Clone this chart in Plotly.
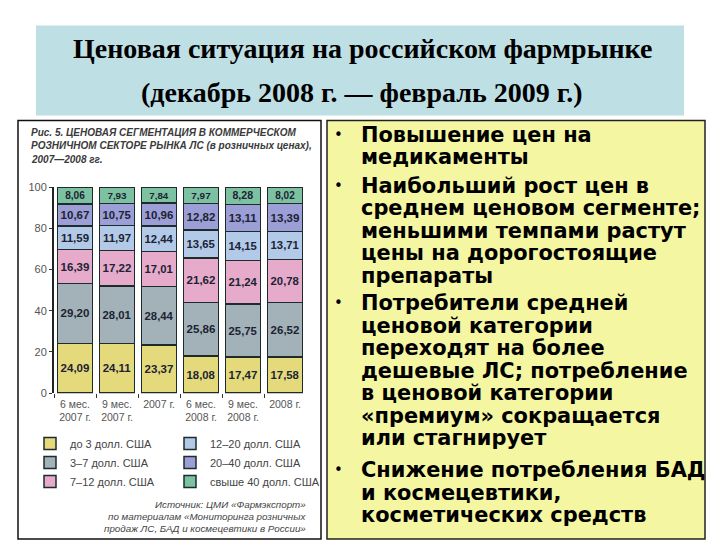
import plotly.graph_objects as go

# ---------------- data ----------------
categories = ["6 мес.<br>2007 г.", "9 мес.<br>2007 г.", "2007 г.",
              "6 мес.<br>2008 г.", "9 мес.<br>2008 г.", "2008 г."]
seg_names = ["до 3 долл. США", "3–7 долл. США", "7–12 долл. США",
             "12–20 долл. США", "20–40 долл. США", "свыше 40 долл. США"]
upto3 = [24.09, 24.11, 23.37, 18.08, 17.47, 17.58]
s3_7 = [29.20, 28.01, 28.44, 25.86, 25.75, 26.52]
s7_12 = [16.39, 17.22, 17.01, 21.62, 21.24, 20.78]
s12_20 = [11.59, 11.97, 12.44, 13.65, 14.15, 13.71]
s20_40 = [10.67, 10.75, 10.96, 12.82, 13.11, 13.39]
over40 = [8.06, 7.93, 7.84, 7.97, 8.28, 8.02]
y_ticks = [0, 20, 40, 60, 80, 100]

title_lines = ["Ценовая ситуация на российском фармрынке",
               "(декабрь 2008 г. — февраль 2009 г.)"]
caption_lines = ["Рис. 5. ЦЕНОВАЯ СЕГМЕНТАЦИЯ В КОММЕРЧЕСКОМ",
                 "РОЗНИЧНОМ СЕКТОРЕ РЫНКА ЛС (в розничных ценах),",
                 "2007—2008 гг."]
source_lines = ["Источник: ЦМИ «Фармэкспорт»",
                "по материалам «Мониторинга розничных",
                "продаж ЛС, БАД и космецевтики в России»"]
bullets = [
    ["Повышение цен на", "медикаменты"],
    ["Наибольший рост цен в", "среднем ценовом сегменте;",
     "меньшими темпами растут", "цены на дорогостоящие", "препараты"],
    ["Потребители средней", "ценовой категории", "переходят на более",
     "дешевые ЛС; потребление", "в ценовой категории",
     "«премиум» сокращается", "или стагнирует"],
    ["Снижение потребления БАД", "и космецевтики,", "косметических средств"],
]

# ---------------- style ----------------
W, H = 720, 540
def px(x): return x / W
def py(y): return 1 - y / H

series = [upto3, s3_7, s7_12, s12_20, s20_40, over40]
colors = ["#e4da7c", "#a2b2b8", "#e6aacb", "#b2cae8", "#9c9ed6", "#7cc2a2"]
legends = ["legend", "legend", "legend", "legend2", "legend2", "legend2"]

fig = go.Figure()
for name, vals, col, lg in zip(seg_names, series, colors, legends):
    fig.add_trace(go.Bar(
        x=categories, y=vals, name=name, legend=lg,
        marker=dict(color=col, line=dict(color="#1e2b2b", width=1.5)),
        texttemplate="%{y:.2f}", textposition="inside",
        insidetextanchor="middle", textangle=0,
        textfont=dict(family="Liberation Sans", size=11.5, color="#1c2333", weight="bold"),
        cliponaxis=False,
    ))

shapes = [
    dict(type="rect", xref="paper", yref="paper", x0=px(36), x1=px(684), y0=py(112), y1=py(20),
         fillcolor="#bedfe4", line=dict(width=0), layer="below"),
    dict(type="rect", xref="paper", yref="paper", x0=px(18), x1=px(321), y0=py(545), y1=py(117),
         fillcolor="white", line=dict(color="#111", width=1.5), layer="below"),
    dict(type="rect", xref="paper", yref="paper", x0=px(327), x1=px(705), y0=py(545), y1=py(117),
         fillcolor="#f4f6a2", line=dict(color="#222", width=1.5), layer="below"),
]

ann = []
for i, t in enumerate(title_lines):
    ann.append(dict(text=t, xref="paper", yref="paper", x=px(362), y=py([43, 88][i]),
                    xanchor="center", yanchor="middle", showarrow=False,
                    font=dict(family="Liberation Serif", size=28, color="#000", weight="bold")))
for i, t in enumerate(caption_lines):
    ann.append(dict(text=t, xref="paper", yref="paper", x=px(29), y=py(129 + 14 * i),
                    xanchor="left", yanchor="middle", showarrow=False,
                    font=dict(family="Liberation Sans", size=10, color="#3a3a3a",
                              weight="bold", style="italic")))
for i, t in enumerate(source_lines):
    ann.append(dict(text=t, xref="paper", yref="paper", x=px(308), y=py(510 + 12.3 * i),
                    xanchor="right", yanchor="middle", showarrow=False,
                    font=dict(family="Liberation Sans", size=9.8, color="#444", style="italic")))

bullet_starts = [131.5, 184, 304, 475]
step = 23
for b, lines in enumerate(bullets):
    y0 = bullet_starts[b]
    ann.append(dict(text="•", xref="paper", yref="paper", x=px(338), y=py(y0),
                    xanchor="center", yanchor="middle", showarrow=False,
                    font=dict(family="DejaVu Sans", size=15, color="#000")))
    for j, t in enumerate(lines):
        ann.append(dict(text=t, xref="paper", yref="paper", x=px(359), y=py(y0 + step * j),
                        xanchor="left", yanchor="middle", showarrow=False,
                        font=dict(family="DejaVu Sans", size=20.9, color="#000", weight="bold")))

legend_font = dict(family="Liberation Sans", size=11, color="#444")
fig.update_layout(
    width=W, height=H, margin=dict(l=0, r=0, t=0, b=0),
    paper_bgcolor="white", plot_bgcolor="rgba(0,0,0,0)",
    barmode="stack", bargap=0.17, separators=", ",
    shapes=shapes, annotations=ann,
    showlegend=True,
    legend=dict(x=px(30), y=py(467), xanchor="left", yanchor="middle", traceorder="normal",
                font=legend_font, bgcolor="rgba(0,0,0,0)", itemwidth=30, orientation="v"),
    legend2=dict(x=px(170), y=py(467), xanchor="left", yanchor="middle", traceorder="normal",
                 font=legend_font, bgcolor="rgba(0,0,0,0)", itemwidth=30, orientation="v"),
    xaxis=dict(domain=[px(54), px(306)], type="category", showgrid=False, showline=False,
               ticks="outside", tickson="boundaries", ticklen=4, tickcolor="#333",
               ticklabelstandoff=3, tickangle=0,
               tickfont=dict(family="Liberation Sans", size=10.5, color="#555"), zeroline=False),
    yaxis=dict(domain=[py(396), py(185)], range=[0, 100.15], tickvals=y_ticks,
               showgrid=False, showline=True, linecolor="#222", linewidth=2,
               ticks="outside", ticklen=3, tickcolor="#333", zeroline=False,
               tickfont=dict(family="Liberation Sans", size=11, color="#555")),
)

fig.write_html("out.html", config={"displayModeBar": False},
               post_script="document.body.style.margin='0';")
